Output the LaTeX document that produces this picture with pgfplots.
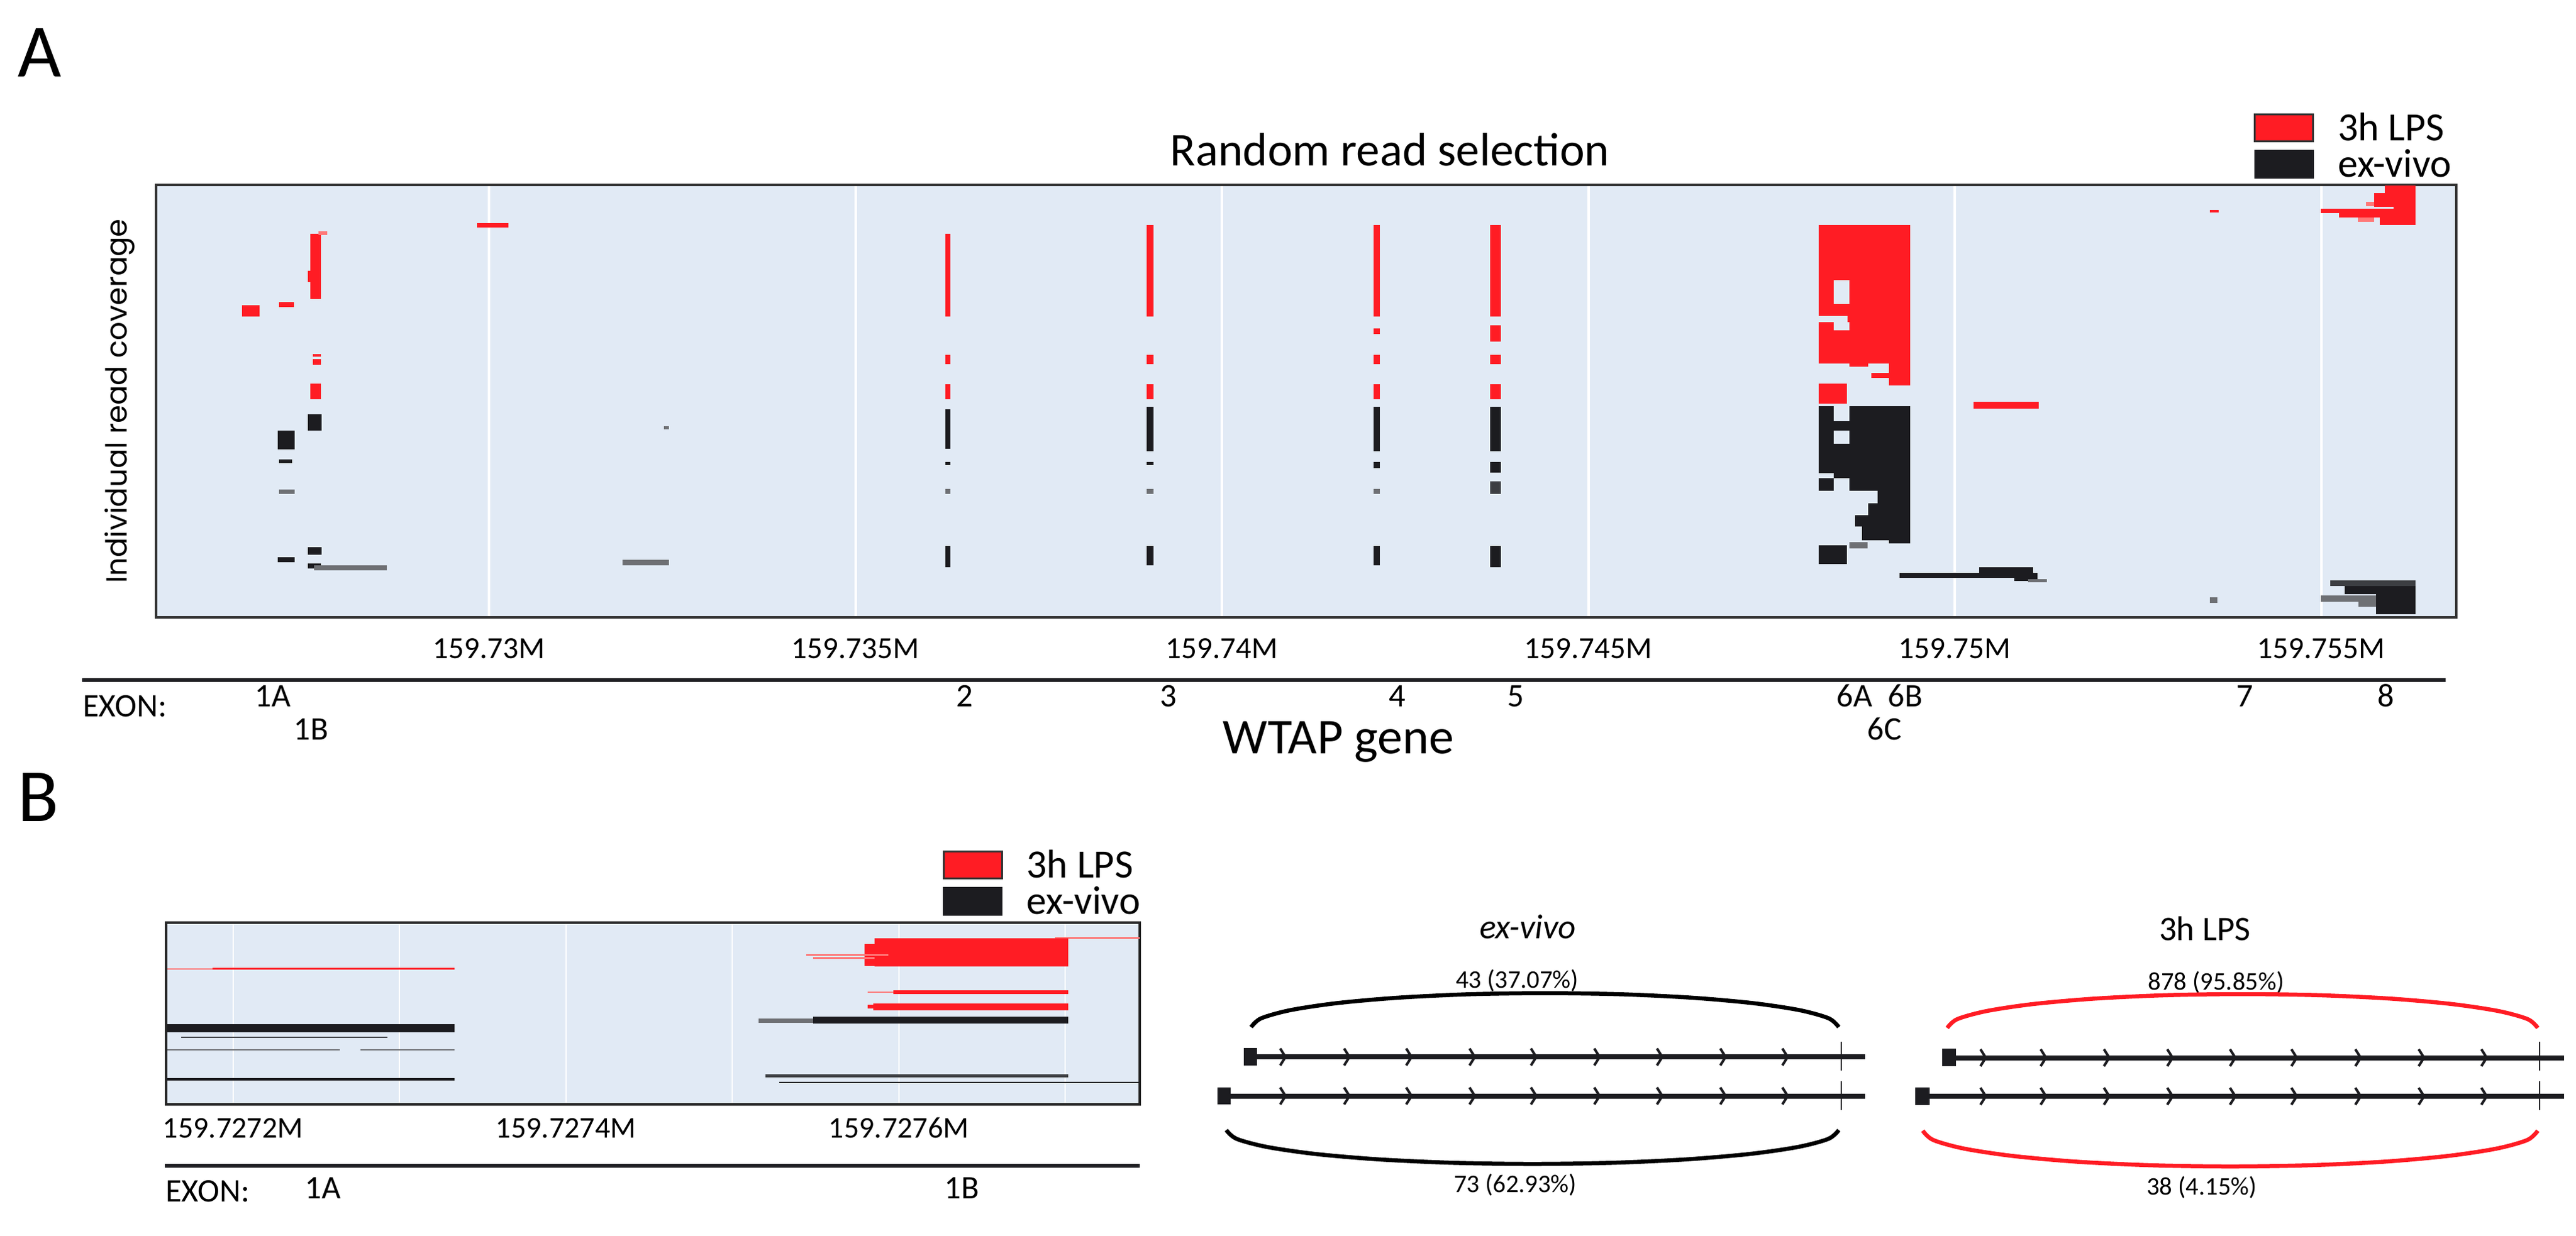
\documentclass[border=0pt]{standalone}
\usepackage{fontspec}
\setmainfont{Carlito}
\newfontfamily\popfont{Poppins}
\usepackage{pgfplots}
\pgfplotsset{compat=1.18}

\definecolor{bgblue}{RGB}{225,234,245}
\definecolor{lpsred}{RGB}{255,28,36}
\definecolor{lightred}{RGB}{255,120,120}
\definecolor{exblack}{RGB}{28,28,32}
\definecolor{rdgrey}{RGB}{110,112,116}
\definecolor{dkgrey}{RGB}{60,62,66}

\newcommand{\fs}[1]{\fontsize{#1}{#1}\selectfont}
% one read block: colour, x from, x to, y top, y bottom
\newcommand{\rect}[5]{\addplot[forget plot, draw=none, fill=#1] coordinates {(#2,#4) (#3,#4) (#3,#5) (#2,#5)};}
% exon label in the page-pixel axis: x, baseline y, text
\newcommand{\lab}[3]{\node[anchor=base, inner sep=0pt] at (#1,#2) {\fs{10.5}#3};}

\pgfdeclareplotmark{chev}{%
  \pgfpathmoveto{\pgfqpoint{-1.2pt}{2.7pt}}%
  \pgfpathlineto{\pgfqpoint{0.5pt}{0pt}}%
  \pgfpathlineto{\pgfqpoint{-1.2pt}{-2.7pt}}%
  \pgfusepathqstroke}

\pgfplotsset{
  readlegend/.style={
    legend cell align=left,
    legend image code/.code={\draw[##1] (0pt,-4.35pt) rectangle (18.6pt,4.35pt);},
    legend style={draw=none, fill=none, inner sep=0pt, outer sep=0pt,
      row sep=2.4pt, column sep=7.6pt, font=\fs{12.8},
      nodes={inner sep=0pt, text height=8.4pt, text depth=0.3pt}},
  },
}

\begin{document}
\begin{tikzpicture}
\useasboundingbox (0,0) rectangle (821.8pt,394.2pt);

% ---------- panel A: WTAP gene ----------
\begin{axis}[
  at={(49.8pt,197.2pt)}, anchor=south west, scale only axis,
  width=733.8pt, height=138pt,
  xmin=5.458, xmax=36.843, ymin=0, ymax=100,
  axis background/.style={fill=bgblue},
  axis line style={draw=black!80, line width=0.7pt},
  xtick={10,15,20,25,30,35},
  xticklabels={159.73M,159.735M,159.74M,159.745M,159.75M,159.755M},
  ytick=\empty, major tick length=0pt,
  xmajorgrids, grid style={white, line width=0.8pt},
  xticklabel style={font=\fs{9.8}, anchor=base, yshift=-13pt},
  title={Random read selection},
  every axis title shift=0pt,
  title style={font=\fs{15}, anchor=base, yshift=0pt, at={(axis description cs:0.5364,1.0449)}},
  ylabel={Individual read coverage},
  ylabel style={font=\popfont\fs{9.3}, anchor=base, at={(axis description cs:-0.01254,0.5)}},
  readlegend,
  legend style={at={(axis description cs:0.912,1.1658)}, anchor=north west},
]
\addlegendimage{fill=lpsred, draw=black!80, line width=0.6pt}
\addlegendentry{3h LPS}
\addlegendimage{fill=exblack, draw=exblack}
\addlegendentry{ex-vivo}

% exon 1A / 1B
\rect{lpsred}{9.835}{10.268}{91.12}{90.09}
\rect{lpsred}{7.562}{7.705}{88.65}{73.67}
\rect{lightred}{7.673}{7.790}{89.28}{88.41}
\rect{lpsred}{7.525}{7.562}{80.19}{77.54}
\rect{lpsred}{6.630}{6.869}{72.22}{69.57}
\rect{lpsred}{7.134}{7.342}{72.94}{71.74}
\rect{lpsred}{7.599}{7.705}{60.87}{60.25}
\rect{lpsred}{7.599}{7.705}{59.75}{58.45}
\rect{lpsred}{7.562}{7.705}{54.06}{50.49}
\rect{exblack}{7.532}{7.713}{47.01}{43.20}
\rect{exblack}{7.117}{7.348}{43.20}{38.84}
\rect{exblack}{7.134}{7.314}{36.46}{35.70}
\rect{rdgrey}{7.134}{7.348}{29.59}{28.48}
\rect{exblack}{7.532}{7.713}{16.26}{14.45}
\rect{exblack}{7.117}{7.348}{13.91}{12.78}
\rect{exblack}{7.532}{7.705}{12.46}{11.30}
\rect{rdgrey}{7.610}{8.602}{12.09}{10.91}
\rect{rdgrey}{11.819}{12.451}{13.33}{12.09}
\rect{rdgrey}{12.387}{12.451}{44.20}{43.55}

% exon 2
\rect{lpsred}{16.23}{16.30}{88.70}{69.59}
\rect{lpsred}{16.23}{16.30}{60.77}{58.48}
\rect{lpsred}{16.23}{16.30}{53.97}{50.49}
\rect{exblack}{16.23}{16.30}{48.06}{39.03}
\rect{exblack}{16.23}{16.30}{35.91}{35.22}
\rect{rdgrey}{16.23}{16.30}{29.65}{28.62}
\rect{exblack}{16.23}{16.30}{16.46}{11.61}

% exon 3
\rect{lpsred}{18.973}{19.067}{90.77}{69.59}
\rect{lpsred}{18.973}{19.067}{60.77}{58.48}
\rect{lpsred}{18.973}{19.067}{53.97}{50.49}
\rect{exblack}{18.973}{19.067}{48.75}{38.35}
\rect{exblack}{18.973}{19.067}{35.91}{35.22}
\rect{rdgrey}{18.973}{19.067}{29.65}{28.62}
\rect{exblack}{18.973}{19.067}{16.46}{12.03}

% exon 4
\rect{lpsred}{22.070}{22.155}{90.77}{69.59}
\rect{lpsred}{22.070}{22.155}{66.81}{65.57}
\rect{lpsred}{22.070}{22.155}{60.77}{58.48}
\rect{lpsred}{22.070}{22.155}{53.97}{50.49}
\rect{exblack}{22.070}{22.155}{48.75}{38.35}
\rect{exblack}{22.070}{22.155}{35.94}{34.49}
\rect{rdgrey}{22.070}{22.155}{29.65}{28.62}
\rect{exblack}{22.070}{22.155}{16.46}{12.03}

% exon 5
\rect{lpsred}{23.661}{23.806}{90.77}{69.59}
\rect{lpsred}{23.661}{23.806}{67.54}{63.70}
\rect{lpsred}{23.661}{23.806}{60.77}{58.48}
\rect{lpsred}{23.661}{23.806}{53.97}{50.49}
\rect{exblack}{23.661}{23.806}{48.75}{38.35}
\rect{exblack}{23.661}{23.806}{35.94}{33.50}
\rect{dkgrey}{23.661}{23.806}{31.50}{28.62}
\rect{exblack}{23.661}{23.806}{16.46}{11.61}

% exon 6A / 6B / 6C
\rect{lpsred}{28.141}{29.390}{90.68}{58.70}
\rect{bgblue}{28.349}{28.563}{77.93}{72.46}
\rect{bgblue}{28.141}{28.535}{69.71}{68.26}
\rect{bgblue}{28.349}{28.563}{68.26}{66.43}
\rect{lpsred}{28.563}{28.820}{58.70}{57.97}
\rect{lpsred}{29.104}{29.390}{58.70}{53.62}
\rect{lpsred}{28.862}{29.104}{56.52}{55.31}
\rect{lpsred}{28.141}{28.526}{54.10}{49.42}
\rect{lpsred}{30.254}{31.149}{49.86}{48.30}
\rect{exblack}{28.141}{29.390}{48.79}{29.23}
\rect{bgblue}{28.349}{28.563}{48.79}{45.41}
\rect{bgblue}{28.349}{28.563}{43.24}{40.10}
\rect{bgblue}{28.349}{28.563}{32.12}{29.23}
\rect{bgblue}{28.141}{28.349}{33.33}{32.22}
\rect{exblack}{28.948}{29.390}{29.23}{26.33}
\rect{exblack}{28.820}{29.390}{26.33}{23.67}
\rect{exblack}{28.640}{29.390}{23.67}{21.01}
\rect{exblack}{28.734}{29.390}{21.01}{17.87}
\rect{exblack}{29.104}{29.390}{17.87}{17.15}
\rect{rdgrey}{28.563}{28.811}{17.39}{15.94}
\rect{exblack}{28.141}{28.526}{16.67}{12.32}
\rect{exblack}{30.331}{31.072}{11.59}{10.29}
\rect{exblack}{29.247}{31.129}{10.29}{9.18}
\rect{exblack}{30.815}{31.129}{9.18}{8.45}
\rect{rdgrey}{31.000}{31.258}{8.90}{8.07}

% exons 7 and 8
\rect{lpsred}{33.481}{33.601}{94.26}{93.62}
\rect{rdgrey}{33.480}{33.580}{4.64}{3.39}
\rect{lpsred}{35.869}{36.286}{99.86}{98.07}
\rect{lpsred}{35.720}{36.286}{98.07}{94.93}
\rect{lpsred}{35.990}{36.286}{94.93}{94.45}
\rect{lightred}{35.609}{35.720}{96.13}{95.03}
\rect{lpsred}{34.999}{36.286}{94.45}{93.48}
\rect{lpsred}{35.241}{36.286}{93.48}{92.51}
\rect{lightred}{35.498}{35.720}{92.51}{91.45}
\rect{lpsred}{35.797}{36.286}{93.48}{90.68}
\rect{dkgrey}{35.121}{36.286}{8.55}{7.25}
\rect{exblack}{35.320}{36.286}{7.25}{5.32}
\rect{rdgrey}{34.999}{35.748}{5.07}{3.62}
\rect{rdgrey}{35.506}{35.748}{3.62}{2.42}
\rect{exblack}{35.748}{36.286}{5.32}{0.72}
\end{axis}

% ---------- panel B: exon 1 zoom ----------
\begin{axis}[
  at={(53pt,41.8pt)}, anchor=south west, scale only axis,
  width=310.6pt, height=58pt,
  xmin=159.8, xmax=744.8, ymin=0, ymax=100,
  axis background/.style={fill=bgblue},
  axis line style={draw=black!85, line width=0.7pt},
  xtick={200,400,600}, minor xtick={300,500,700},
  xticklabels={159.7272M,159.7274M,159.7276M},
  ytick=\empty, major tick length=0pt, minor tick length=0pt,
  xmajorgrids, xminorgrids,
  grid style={white, line width=0.4pt}, minor grid style={white, line width=0.4pt},
  xticklabel style={font=\fs{9.6}, anchor=base, yshift=-10.6pt},
  readlegend,
  legend style={at={(axis description cs:0.7975,1.3966)}, anchor=north west},
]
\addlegendimage{fill=lpsred, draw=black!80, line width=0.6pt}
\addlegendentry{3h LPS}
\addlegendimage{fill=exblack, draw=exblack}
\addlegendentry{ex-vivo}

\rect{lightred}{693.9}{745.0}{92.2}{91.1}
\rect{lpsred}{585.4}{702.0}{91.5}{75.8}
\rect{lpsred}{579.3}{585.4}{88.4}{76.2}
\rect{lightred}{544.5}{593.6}{82.6}{81.8}
\rect{lightred}{548.6}{585.4}{81.0}{80.1}
\rect{lpsred}{187.7}{333.0}{75.2}{74.0}
\rect{lightred}{160.7}{187.7}{75.0}{74.2}
\rect{lpsred}{596.9}{702.0}{62.7}{60.7}
\rect{lightred}{581.4}{596.9}{62.0}{61.3}
\rect{lpsred}{584.6}{702.0}{55.5}{51.9}
\rect{lpsred}{581.4}{584.6}{54.8}{52.7}
\rect{exblack}{548.6}{702.0}{48.4}{44.5}
\rect{rdgrey}{515.9}{548.6}{47.3}{44.8}
\rect{exblack}{160.7}{333.0}{44.2}{39.7}
\rect{dkgrey}{168.9}{292.9}{37.4}{36.6}
\rect{rdgrey}{160.7}{264.3}{30.5}{29.5}
\rect{rdgrey}{276.5}{333.0}{30.5}{29.5}
\rect{exblack}{160.7}{333.0}{14.4}{13.0}
\rect{dkgrey}{520.0}{702.0}{16.4}{14.7}
\rect{exblack}{528.2}{745.0}{12.5}{11.6}
\end{axis}

% ---------- annotations and junction diagrams, in page pixels ----------
\begin{axis}[
  at={(0pt,0pt)}, anchor=south west, scale only axis,
  width=821.8pt, height=394.2pt,
  xmin=0, xmax=4109, ymin=0, ymax=1971, y dir=reverse,
  hide axis, clip=false,
]
\node[anchor=base west, inner sep=0pt] at (28,122) {\fs{24}A};
\node[anchor=base west, inner sep=0pt] at (28,1310) {\fs{24}B};

% exon track, panel A
\addplot[exblack, line width=1.2pt] coordinates {(131,1085) (3901,1085)};
\node[anchor=base west, inner sep=0pt] at (131,1143) {\fs{10.5}EXON:};
\lab{435}{1127}{1A}
\lab{1539}{1127}{2}
\lab{1864}{1127}{3}
\lab{2229}{1127}{4}
\lab{2418}{1127}{5}
\lab{2958}{1127}{6A}
\lab{3039}{1127}{6B}
\lab{3581}{1127}{7}
\lab{3806}{1127}{8}
\lab{496}{1180}{1B}
\lab{3006}{1180}{6C}
\node[anchor=base, inner sep=0pt] at (2135,1202) {\fs{16}WTAP gene};

% exon track, panel B
\addplot[exblack, line width=1.2pt] coordinates {(263,1860) (1818,1860)};
\node[anchor=base west, inner sep=0pt] at (263,1917) {\fs{10.5}EXON:};
\lab{515}{1912}{1A}
\lab{1534}{1912}{1B}

% junction diagram: ex-vivo
\node[anchor=base, inner sep=0pt] at (2437,1497) {\fs{11}\itshape ex-vivo};
\node[anchor=base, inner sep=0pt] at (2420,1576) {\fs{8.1}43 (37.07\%)};
\node[anchor=base, inner sep=0pt] at (2417,1902) {\fs{8.1}73 (62.93\%)};
\addplot[black, line width=1.3pt, smooth] coordinates {
  (1995.6,1638.7) (2011.6,1624.7) (2058.4,1611.6) (2132.9,1600.4) (2229.9,1591.8)
  (2343.0,1586.3) (2464.3,1584.5) (2585.6,1586.3) (2698.7,1591.8) (2795.7,1600.4)
  (2870.2,1611.6) (2917.0,1624.7) (2933.0,1638.7)};
\addplot[black, line width=1.3pt, smooth] coordinates {
  (1956.0,1803.0) (1972.6,1817.0) (2021.4,1830.0) (2099.1,1841.2) (2200.2,1849.8)
  (2318.1,1855.2) (2444.5,1857.0) (2570.9,1855.2) (2688.8,1849.8) (2789.9,1841.2)
  (2867.6,1830.0) (2916.4,1817.0) (2933.0,1803.0)};
\addplot[exblack, line width=1.6pt] coordinates {(2005,1686.3) (2975,1686.3)};
\addplot[exblack, line width=1.6pt] coordinates {(1963,1748.5) (2975,1748.5)};
\addplot[draw=none, fill=exblack] coordinates {(1984,1672) (2005,1672) (2005,1700) (1984,1700)};
\addplot[draw=none, fill=exblack] coordinates {(1942,1735) (1963,1735) (1963,1762) (1942,1762)};
\addplot[exblack, line width=0.5pt] coordinates {(2937,1662) (2937,1708)};
\addplot[exblack, line width=0.5pt] coordinates {(2937,1725) (2937,1771)};
\addplot[exblack, only marks, mark=chev, mark options={line width=0.8pt}] coordinates {
  (2048,1686.3) (2150,1686.3) (2249,1686.3) (2350,1686.3) (2448,1686.3)
  (2549,1686.3) (2649,1686.3) (2750,1686.3) (2849,1686.3)
  (2048,1748.5) (2150,1748.5) (2249,1748.5) (2350,1748.5) (2448,1748.5)
  (2549,1748.5) (2649,1748.5) (2750,1748.5) (2849,1748.5)};

% junction diagram: 3h LPS
\node[anchor=base, inner sep=0pt] at (3517,1500) {\fs{11}3h LPS};
\node[anchor=base, inner sep=0pt] at (3535,1579) {\fs{8.1}878 (95.85\%)};
\node[anchor=base, inner sep=0pt] at (3512,1906) {\fs{8.1}38 (4.15\%)};
\addplot[lpsred, line width=1.3pt, smooth] coordinates {
  (3106.0,1640.0) (3122.0,1626.0) (3169.1,1613.0) (3244.0,1601.8) (3341.5,1593.2)
  (3455.1,1587.8) (3577.0,1586.0) (3698.9,1587.8) (3812.5,1593.2) (3910.0,1601.8)
  (3984.9,1613.0) (4032.0,1626.0) (4048.0,1640.0)};
\addplot[lpsred, line width=1.3pt, smooth] coordinates {
  (3067.0,1804.0) (3083.7,1818.8) (3132.7,1832.5) (3210.7,1844.3) (3312.2,1853.4)
  (3430.6,1859.1) (3557.5,1861.0) (3684.4,1859.1) (3802.8,1853.4) (3904.3,1844.3)
  (3982.3,1832.5) (4031.3,1818.8) (4048.0,1804.0)};
\addplot[exblack, line width=1.6pt] coordinates {(3120,1687.5) (4090,1687.5)};
\addplot[exblack, line width=1.6pt] coordinates {(3078,1749) (4090,1749)};
\addplot[draw=none, fill=exblack] coordinates {(3098,1673) (3120,1673) (3120,1701) (3098,1701)};
\addplot[draw=none, fill=exblack] coordinates {(3055,1735) (3078,1735) (3078,1763) (3055,1763)};
\addplot[exblack, line width=0.5pt] coordinates {(4051,1662) (4051,1708)};
\addplot[exblack, line width=0.5pt] coordinates {(4051,1725) (4051,1771)};
\addplot[exblack, only marks, mark=chev, mark options={line width=0.8pt}] coordinates {
  (3165,1687.5) (3261,1687.5) (3362,1687.5) (3463,1687.5) (3563,1687.5)
  (3661,1687.5) (3763,1687.5) (3864,1687.5) (3964,1687.5)
  (3165,1749) (3261,1749) (3362,1749) (3463,1749) (3563,1749)
  (3661,1749) (3763,1749) (3864,1749) (3964,1749)};
\end{axis}
\end{tikzpicture}
\end{document}
